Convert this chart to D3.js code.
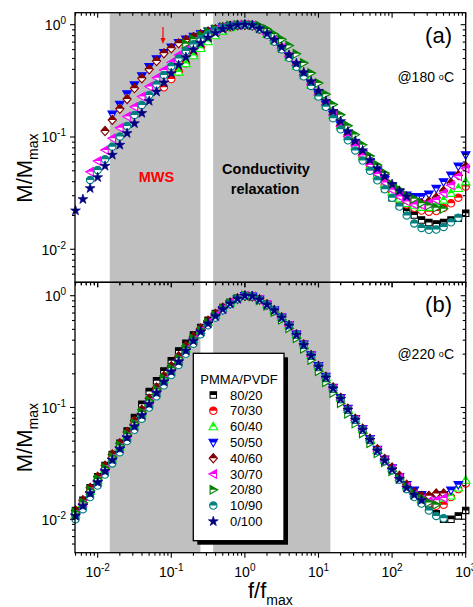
<!DOCTYPE html>
<html><head><meta charset="utf-8">
<script src="https://cdn.jsdelivr.net/npm/d3@7"></script>
<style>body{margin:0;background:#fff} svg text{font-family:"Liberation Sans",Arial,Helvetica,sans-serif}</style>
</head><body><svg id="c" width="473" height="607"></svg>
<script>
// ---------- DATA ----------
const freq = [0.005,0.0063,0.0079,0.01,0.0126,0.0158,0.02,0.0251,0.0316,0.0398,0.0501,0.0631,0.0794,0.1,0.126,0.158,0.2,0.251,0.316,0.398,0.501,0.631,0.794,1,1.26,1.58,2,2.51,3.16,3.98,5.01,6.31,7.94,10,12.6,15.8,20,25.1,31.6,39.8,50.1,63.1,79.4,100,126,158,200,251,316,398,501,631,794,1000];
const seriesNames = ["80/20","70/30","60/40","50/50","40/60","30/70","20/80","10/90","0/100"];
const seriesColors = ["#000000","#ff0000","#00ff00","#0000ff","#800000","#ff00ff","#008000","#008080","#000080"];
const seriesShapes = ["square","circle","triUp","triDown","diamond","triLeft","triRight","circle","star"];

// panel (a) @180 C : first index into freq, then M/Mmax values
const startA = [18, 12, 14, 5, 4, 2, 15, 2, 0];
const a_80_20 = [0.776,0.851,0.912,0.960,0.989,1,0.984,0.918,0.822,0.716,0.612,0.515,0.430,0.353,0.290,0.234,0.190,0.152,0.122,0.0989,0.0804,0.0652,0.0525,0.0427,0.0347,0.0288,0.0245,0.0219,0.0202,0.0182,0.0173,0.0168,0.0173,0.0182,0.0189,0.0209];
const a_70_30 = [0.277,0.328,0.382,0.453,0.537,0.631,0.724,0.813,0.891,0.951,0.989,1,0.982,0.912,0.817,0.711,0.610,0.513,0.427,0.351,0.288,0.234,0.191,0.153,0.123,0.100,0.0813,0.0661,0.0537,0.0447,0.0372,0.0316,0.0275,0.0251,0.0234,0.0221,0.0216,0.0219,0.0234,0.0257,0.0288,0.0363];
const a_60_40 = [0.380,0.452,0.531,0.617,0.708,0.800,0.881,0.944,0.986,1,0.984,0.918,0.822,0.718,0.615,0.519,0.432,0.355,0.292,0.237,0.193,0.156,0.126,0.102,0.0832,0.0676,0.0550,0.0457,0.0380,0.0324,0.0282,0.0257,0.0245,0.0237,0.0237,0.0248,0.0275,0.0316,0.0349,0.0400];
const a_50_50 = [0.159,0.195,0.242,0.290,0.349,0.422,0.495,0.562,0.631,0.692,0.741,0.785,0.832,0.875,0.916,0.953,0.977,0.993,1,0.986,0.920,0.826,0.724,0.621,0.525,0.437,0.359,0.295,0.240,0.195,0.158,0.128,0.105,0.0861,0.0708,0.0589,0.0490,0.0417,0.0363,0.0324,0.0302,0.0294,0.0294,0.0309,0.0347,0.0398,0.0457,0.0550,0.0692];
const a_40_60 = [0.113,0.142,0.178,0.218,0.272,0.333,0.401,0.475,0.556,0.617,0.682,0.731,0.776,0.822,0.871,0.912,0.951,0.977,0.993,1,0.986,0.923,0.828,0.724,0.621,0.525,0.437,0.361,0.295,0.240,0.195,0.158,0.127,0.104,0.0851,0.0700,0.0575,0.0479,0.0407,0.0355,0.0309,0.0279,0.0260,0.0257,0.0266,0.0288,0.0331,0.0389,0.0457,0.0545];
const a_30_70 = [0.0491,0.0611,0.0766,0.0973,0.121,0.152,0.186,0.229,0.281,0.337,0.395,0.462,0.537,0.617,0.692,0.767,0.836,0.895,0.944,0.977,0.995,1,0.984,0.918,0.822,0.721,0.617,0.519,0.432,0.355,0.292,0.237,0.193,0.155,0.124,0.101,0.0832,0.0684,0.0562,0.0468,0.0394,0.0339,0.0295,0.0266,0.0251,0.0248,0.0257,0.0275,0.0316,0.0372,0.0447,0.0525];
const a_20_80 = [0.676,0.741,0.804,0.861,0.912,0.955,0.982,0.995,1,0.995,0.977,0.912,0.822,0.741,0.653,0.550,0.457,0.372,0.302,0.240,0.195,0.158,0.126,0.105,0.0851,0.0676,0.0562,0.0479,0.0380,0.0339,0.0302,0.0282,0.0257,0.0245,0.0234,0.0229];
const a_10_90 = [0.0414,0.0508,0.0632,0.0820,0.101,0.125,0.157,0.193,0.237,0.294,0.356,0.427,0.501,0.582,0.668,0.750,0.822,0.887,0.940,0.977,0.995,1,0.982,0.912,0.813,0.708,0.603,0.507,0.422,0.347,0.285,0.229,0.186,0.147,0.117,0.0933,0.0759,0.0617,0.0501,0.0412,0.0343,0.0288,0.0240,0.0200,0.0170,0.0155,0.0149,0.0150,0.0158,0.0174,0.0191];
const a_0_100 = [0.0221,0.0279,0.0349,0.0437,0.0552,0.0692,0.0849,0.108,0.132,0.163,0.209,0.253,0.305,0.369,0.437,0.513,0.596,0.684,0.767,0.847,0.912,0.964,0.991,1,0.986,0.923,0.832,0.733,0.631,0.537,0.452,0.376,0.313,0.257,0.209,0.170,0.138,0.112,0.0923,0.0759,0.0624,0.0525,0.0447,0.0380,0.0331,0.0295];

// panel (b) @220 C
const startB = [0, 0, 0, 0, 0, 0, 0, 0, 0];
const b_80_20 = [0.0120,0.0148,0.0191,0.0240,0.0302,0.0380,0.0479,0.0617,0.0813,0.107,0.139,0.173,0.212,0.262,0.320,0.375,0.445,0.520,0.603,0.692,0.785,0.870,0.948,1,0.991,0.926,0.835,0.744,0.641,0.546,0.450,0.366,0.294,0.234,0.187,0.150,0.120,0.0966,0.0785,0.0637,0.0519,0.0413,0.0336,0.0280,0.0229,0.0191,0.0162,0.0141,0.0126,0.0112,0.0100,0.0100,0.0107,0.0120];
const b_70_30 = [0.0115,0.0141,0.0178,0.0224,0.0282,0.0355,0.0447,0.0562,0.0708,0.0891,0.112,0.141,0.178,0.219,0.269,0.335,0.410,0.490,0.578,0.670,0.768,0.860,0.942,1,0.986,0.920,0.830,0.738,0.636,0.542,0.447,0.363,0.292,0.233,0.186,0.149,0.120,0.0960,0.0780,0.0635,0.0516,0.0413,0.0336,0.0282,0.0234,0.0195,0.0166,0.0151,0.0138,0.0132,0.0135,0.0158,0.0186,0.0209];
const b_60_40 = [0.0112,0.0138,0.0178,0.0224,0.0282,0.0355,0.0447,0.0562,0.0708,0.0891,0.112,0.141,0.178,0.219,0.269,0.335,0.410,0.490,0.578,0.670,0.768,0.860,0.942,1,0.989,0.925,0.834,0.742,0.640,0.545,0.449,0.365,0.293,0.234,0.187,0.150,0.121,0.0966,0.0785,0.0640,0.0519,0.0417,0.0339,0.0285,0.0237,0.0200,0.0170,0.0151,0.0145,0.0145,0.0155,0.0162,0.0191,0.0224];
const b_50_50 = [0.0105,0.0129,0.0166,0.0209,0.0263,0.0331,0.0417,0.0525,0.0661,0.0832,0.105,0.132,0.166,0.204,0.251,0.316,0.389,0.468,0.556,0.650,0.750,0.847,0.935,1,0.991,0.928,0.836,0.745,0.642,0.547,0.452,0.368,0.295,0.236,0.189,0.151,0.122,0.0977,0.0794,0.0646,0.0525,0.0420,0.0344,0.0288,0.0240,0.0204,0.0182,0.0166,0.0158,0.0158,0.0166,0.0182,0.0204];
const b_40_60 = [0.0120,0.0148,0.0191,0.0240,0.0302,0.0380,0.0479,0.0603,0.0759,0.0955,0.120,0.151,0.191,0.234,0.288,0.355,0.430,0.510,0.598,0.688,0.781,0.868,0.946,1,0.989,0.925,0.834,0.742,0.640,0.545,0.450,0.366,0.294,0.235,0.188,0.151,0.122,0.0977,0.0794,0.0646,0.0525,0.0423,0.0347,0.0291,0.0245,0.0204,0.0174,0.0162,0.0162,0.0170,0.0170];
const b_30_70 = [0.0110,0.0135,0.0174,0.0219,0.0275,0.0347,0.0437,0.0550,0.0692,0.0871,0.110,0.138,0.174,0.214,0.263,0.329,0.402,0.484,0.572,0.664,0.762,0.855,0.940,1,0.986,0.920,0.828,0.735,0.632,0.537,0.442,0.359,0.288,0.229,0.183,0.146,0.117,0.0944,0.0768,0.0625,0.0508,0.0407,0.0334,0.0282,0.0234,0.0195,0.0166,0.0151,0.0145,0.0148,0.0155];
const b_20_80 = [0.0115,0.0141,0.0182,0.0229,0.0288,0.0363,0.0457,0.0575,0.0724,0.0912,0.115,0.145,0.182,0.224,0.275,0.339,0.412,0.490,0.575,0.668,0.766,0.858,0.940,1,0.984,0.912,0.813,0.716,0.609,0.512,0.417,0.335,0.266,0.211,0.168,0.135,0.109,0.0880,0.0717,0.0585,0.0479,0.0389,0.0324,0.0269,0.0229,0.0195,0.0170,0.0155,0.0141,0.0135];
const b_10_90 = [0.0100,0.0123,0.0158,0.0200,0.0251,0.0316,0.0398,0.0501,0.0631,0.0794,0.100,0.126,0.158,0.195,0.240,0.302,0.372,0.452,0.543,0.638,0.741,0.841,0.933,1,0.989,0.923,0.832,0.741,0.638,0.543,0.447,0.363,0.292,0.232,0.186,0.148,0.119,0.0955,0.0776,0.0631,0.0513,0.0407,0.0331,0.0275,0.0226,0.0186,0.0158,0.0138,0.0120,0.0107,0.0102];
const b_0_100 = [0.0107,0.0132,0.0170,0.0214,0.0269,0.0339,0.0427,0.0537,0.0676,0.0851,0.107,0.135,0.170,0.209,0.257,0.322,0.394,0.475,0.562,0.655,0.755,0.851,0.938,1,0.989,0.923,0.830,0.738,0.635,0.540,0.445,0.361,0.290,0.231,0.185,0.148,0.119,0.0955,0.0776,0.0631,0.0513,0.0410,0.0334,0.0278,0.0229,0.0191,0.0165,0.0148];

const seriesA = [a_80_20,a_70_30,a_60_40,a_50_50,a_40_60,a_30_70,a_20_80,a_10_90,a_0_100];
const seriesB = [b_80_20,b_70_30,b_60_40,b_50_50,b_40_60,b_30_70,b_20_80,b_10_90,b_0_100];

// shaded regions (f/fmax)
const bands = [[0.0146, 0.249], [0.371, 14.5]];
// tick labels
const xTickVals = [0.01, 0.1, 1, 10, 100, 1000];
const xTickExp = ["-2", "-1", "0", "1", "2", "3"];
const yTickVals = [0.01, 0.1, 1];
const yTickExp = ["-2", "-1", "0"];
const panelLabels = ["(a)", "(b)"];
const tempLabels = ["@180 ", "@220 "];

// ---------- LAYOUT ----------
const svg = d3.select("#c");
const xL = 75, xR = 465.7;
const x = d3.scaleLog().domain([0.00492, 1000]).range([xL, xR]);
const panels = [
  {top: 12.7, bottom: 282.3, dom: [0.00508, 1.279], data: seriesA, start: startA},
  {top: 282.3, bottom: 552.7, dom: [0.00502, 1.318], data: seriesB, start: startB}
];

const defs = svg.append("defs");
defs.append("clipPath").attr("id", "topHalf").append("rect")
  .attr("x", -10).attr("y", -10).attr("width", 20).attr("height", 10);

function shapePath(t) {
  switch (t) {
    case "square": return "M-3.2,-3.2H3.2V3.2H-3.2Z";
    case "circle": return d3.symbol(d3.symbolCircle, Math.PI * 3.7 * 3.7)();
    case "triUp": return "M0,-4.4L4.3,3.2L-4.3,3.2Z";
    case "triDown": return "M0,4.4L4.3,-3.2L-4.3,-3.2Z";
    case "diamond": return "M0,-4.6L4.1,0L0,4.6L-4.1,0Z";
    case "triLeft": return "M-4.4,0L3.2,-4.3L3.2,4.3Z";
    case "triRight": return "M4.4,0L-3.2,-4.3L-3.2,4.3Z";
    case "star": return d3.symbol(d3.symbolStar, 30)();
  }
}
function drawMarker(sel, si) {
  const d = shapePath(seriesShapes[si]), c = seriesColors[si];
  if (seriesShapes[si] === "star") {
    sel.append("path").attr("d", d).attr("fill", c).attr("stroke", c).attr("stroke-width", 0.7);
  } else {
    sel.append("path").attr("d", d).attr("fill", "#fff").attr("stroke", c).attr("stroke-width", 1.1);
    sel.append("path").attr("d", d).attr("fill", c).attr("clip-path", "url(#topHalf)");
  }
}

const gBands = svg.append("g");
const gData = svg.append("g");
const gAxes = svg.append("g");

panels.forEach((p, pi) => {
  const y = d3.scaleLog().domain(p.dom).range([p.bottom, p.top]);
  p.y = y;
  bands.forEach(b => {
    gBands.append("rect").attr("x", x(b[0])).attr("width", x(b[1]) - x(b[0]))
      .attr("y", p.top).attr("height", p.bottom - p.top).attr("fill", "#c0c0c0");
  });
  p.data.forEach((vals, si) => {
    const pts = vals.map((v, i) => ({f: freq[p.start[si] + i], m: v}));
    gData.append("g").selectAll("g").data(pts).join("g")
      .attr("transform", d => `translate(${x(d.f)},${y(d.m)})`)
      .each(function () { drawMarker(d3.select(this), si); });
  });
  gAxes.append("rect").attr("x", xL).attr("y", p.top).attr("width", xR - xL)
    .attr("height", p.bottom - p.top).attr("fill", "none").attr("stroke", "#000").attr("stroke-width", 1.3);
  const isMajor = v => Math.abs(Math.log10(v) - Math.round(Math.log10(v))) < 1e-6;
  const xt = x.ticks().filter(v => x(v) >= xL - 0.5 && x(v) <= xR + 0.5);
  xt.forEach(v => {
    const L = isMajor(v) ? 5 : 3, X = x(v);
    gAxes.append("line").attr("x1", X).attr("x2", X).attr("y1", p.top).attr("y2", p.top + L)
      .attr("stroke", "#000").attr("stroke-width", 1.1);
    gAxes.append("line").attr("x1", X).attr("x2", X).attr("y1", p.bottom).attr("y2", p.bottom + L)
      .attr("stroke", "#000").attr("stroke-width", 1.1);
  });
  const yt = y.ticks().filter(v => y(v) >= p.top - 0.5 && y(v) <= p.bottom + 0.5);
  yt.forEach(v => {
    const L = isMajor(v) ? 5 : 3, Y = y(v);
    gAxes.append("line").attr("x1", xL).attr("x2", xL - L).attr("y1", Y).attr("y2", Y)
      .attr("stroke", "#000").attr("stroke-width", 1.1);
    gAxes.append("line").attr("x1", xR).attr("x2", xR - L).attr("y1", Y).attr("y2", Y)
      .attr("stroke", "#000").attr("stroke-width", 1.1);
  });
  yTickVals.forEach((v, i) => {
    const t = gAxes.append("text").attr("x", 66).attr("y", y(v) + 5.3)
      .attr("text-anchor", "end").attr("font-size", 14);
    t.append("tspan").text("10");
    t.append("tspan").attr("dy", -6).attr("font-size", 10).text(yTickExp[i]);
  });
  const yt2 = gAxes.append("text").attr("transform", `translate(32,${p.top + 190}) rotate(-90)`)
    .attr("font-size", 22);
  yt2.append("tspan").text("M/M");
  yt2.append("tspan").attr("font-size", 14).attr("dy", 6).text("max");
  gAxes.append("text").attr("x", 452).attr("y", p.top + 30).attr("text-anchor", "end")
    .attr("font-size", 22).text(panelLabels[pi]);
  const tl = gAxes.append("text").attr("x", 454).attr("y", pi === 0 ? 82 : 359)
    .attr("text-anchor", "end").attr("font-size", 14);
  tl.append("tspan").text(tempLabels[pi]);
  tl.append("tspan").attr("font-size", 9).attr("dy", -2.5).text("o");
  tl.append("tspan").attr("dy", 2.5).text("C");
});

xTickVals.forEach((v, i) => {
  const t = gAxes.append("text").attr("x", x(v)).attr("y", 577).attr("text-anchor", "middle").attr("font-size", 14);
  t.append("tspan").text("10");
  t.append("tspan").attr("dy", -6).attr("font-size", 10).text(xTickExp[i]);
});
const xt2 = gAxes.append("text").attr("x", 248).attr("y", 598).attr("font-size", 22);
xt2.append("tspan").text("f/f");
xt2.append("tspan").attr("font-size", 14).attr("dy", 7).text("max");

gAxes.append("text").attr("x", 156.5).attr("y", 182).attr("text-anchor", "middle")
  .attr("font-size", 14.5).attr("font-weight", "bold").attr("fill", "#ff0000").text("MWS");
gAxes.append("text").attr("x", 266).attr("y", 174).attr("text-anchor", "middle")
  .attr("font-size", 14.5).attr("font-weight", "bold").text("Conductivity");
gAxes.append("text").attr("x", 265).attr("y", 194).attr("text-anchor", "middle")
  .attr("font-size", 14.5).attr("font-weight", "bold").text("relaxation");
gAxes.append("line").attr("x1", 163).attr("x2", 163).attr("y1", 27).attr("y2", 40)
  .attr("stroke", "#ff0000").attr("stroke-width", 1.2);
gAxes.append("path").attr("d", "M160.5,38L165.5,38L163,44Z").attr("fill", "#ff0000");

const lg = svg.append("g");
const lx = 193.3, ly = 353.3, lw = 90.7, lh = 187.4;
lg.append("rect").attr("x", lx + 4).attr("y", ly + 4).attr("width", lw).attr("height", lh).attr("fill", "#000");
lg.append("rect").attr("x", lx).attr("y", ly).attr("width", lw).attr("height", lh)
  .attr("fill", "#fff").attr("stroke", "#000").attr("stroke-width", 1.3);
lg.append("text").attr("x", 239).attr("y", 384).attr("text-anchor", "middle").attr("font-size", 13).text("PMMA/PVDF");
seriesNames.forEach((n, i) => {
  const cy = 395 + i * 15.8;
  const g = lg.append("g").attr("transform", `translate(213.3,${cy})`);
  drawMarker(g, i);
  lg.append("text").attr("x", 230).attr("y", cy + 4.6).attr("font-size", 13).text(n);
});
</script></body></html>
